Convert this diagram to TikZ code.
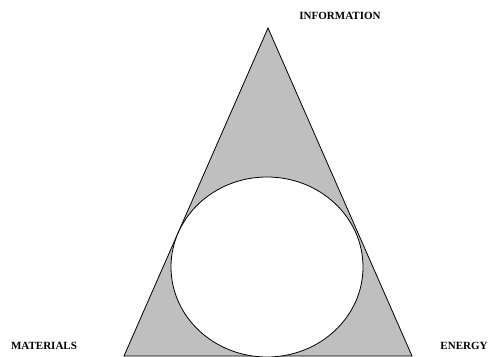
\documentclass[tikz,border=0pt]{standalone}
\usepackage{fontspec}
\setmainfont{Liberation Serif}
\usepackage{tikz}
\usetikzlibrary{positioning,calc}

\tikzset{
    corner/.style={font=\fontsize{11}{13}\selectfont\bfseries, inner sep=0pt},
}

\begin{document}
\begin{tikzpicture}[x=1pt,y=1pt]
    \useasboundingbox (0,0) rectangle (489,356);

    % Triangle corners
    \coordinate (mat) at (124,0);
    \coordinate (inf) at (268,328);
    \coordinate (ene) at (412,0);

    % Shaded triangle with the circle inside
    \draw[line width=0.8pt, fill=black!25, line join=miter] (mat) -- (inf) -- (ene) -- cycle;
    \draw[line width=0.8pt, fill=white] (267,89) ellipse [x radius=96, y radius=90];

    % Labels
    \node[corner] (information) at (340,340) {INFORMATION};
    \node[corner] (materials) at (44,10) {MATERIALS};
    \node[corner] (energy) at (464,10) {ENERGY};
\end{tikzpicture}
\end{document}
